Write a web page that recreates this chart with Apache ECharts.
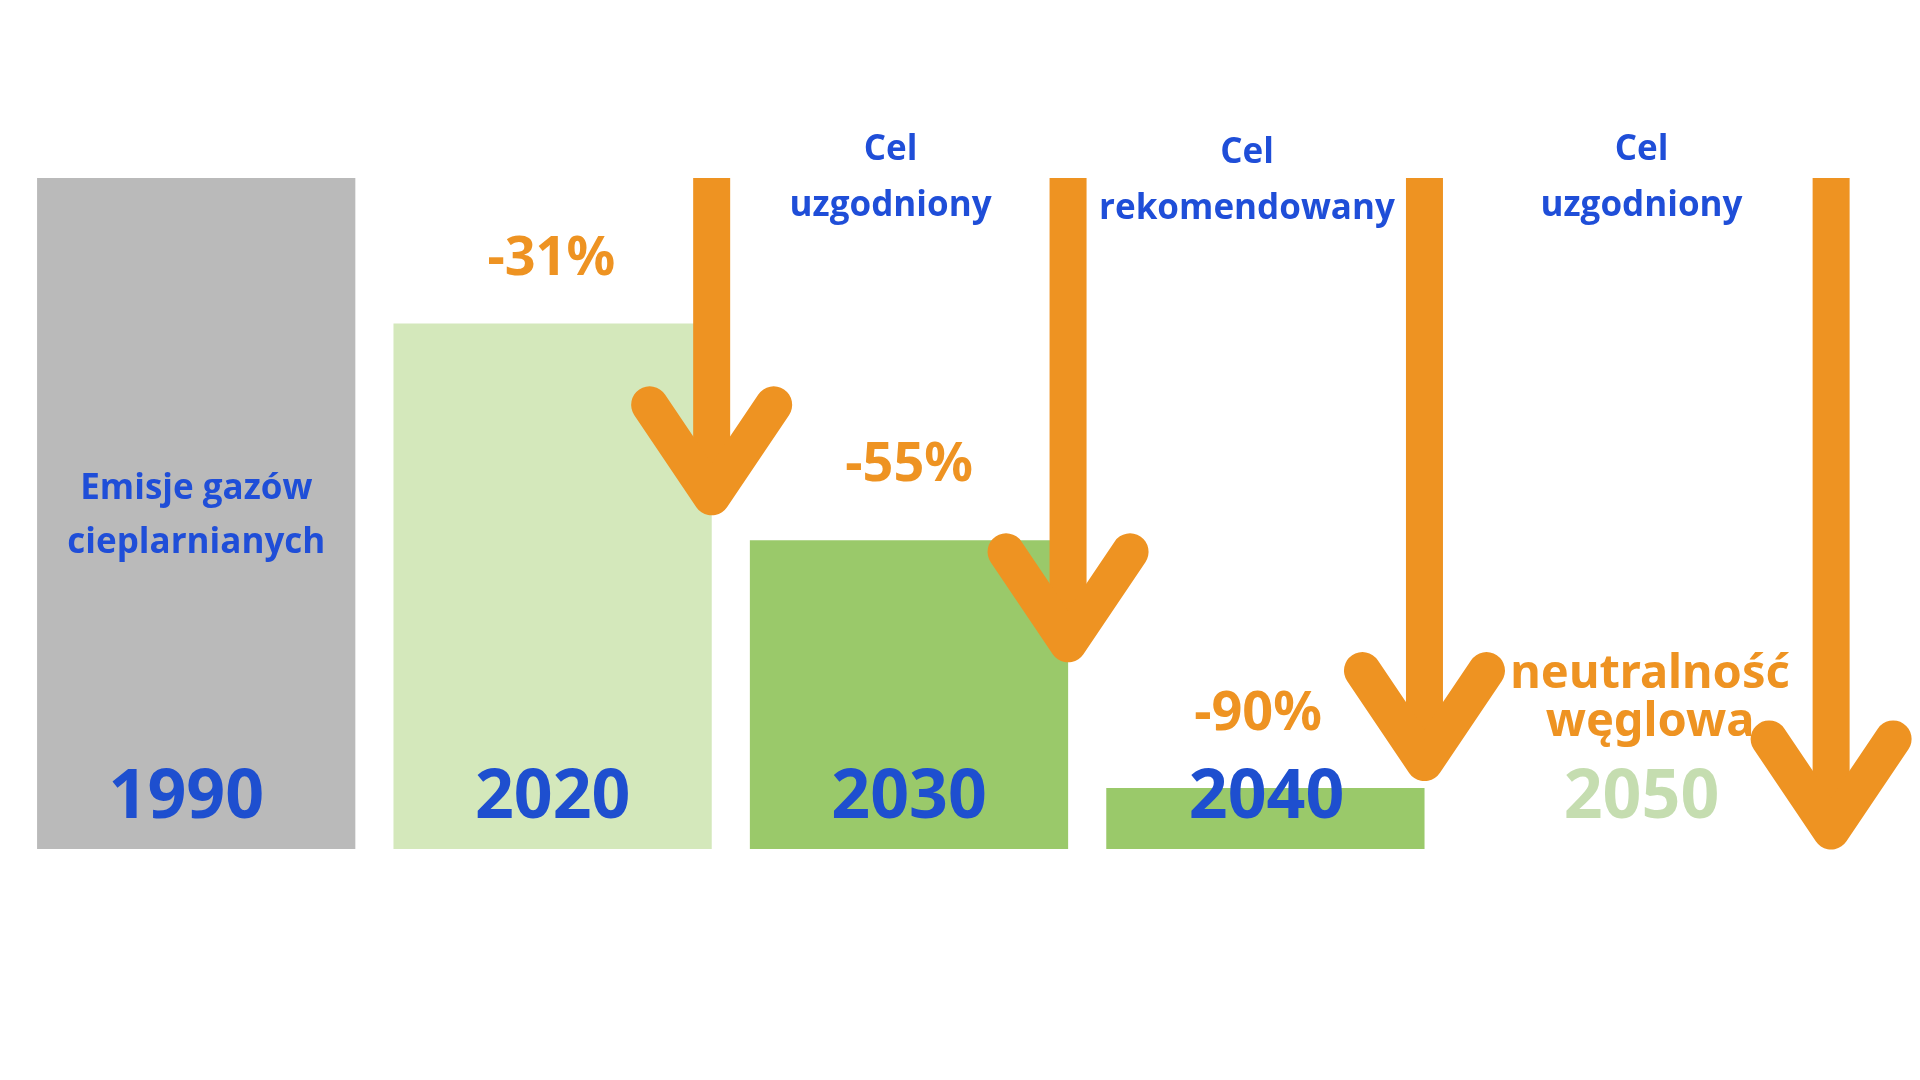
<!DOCTYPE html>
<html>
<head>
<meta charset="utf-8">
<script src="https://cdn.jsdelivr.net/npm/echarts@6/dist/echarts.min.js"></script>
<style>html,body{margin:0;background:#fff}#c{width:1920px;height:1080px}</style>
</head>
<body>
<div id="c"></div>
<script>
// dane
const years = ['1990', '2020', '2030', '2040', '2050'];
const emissions = [100, 78.3, 46, 9.1, 0];
const barColors = ['#bababa', '#d4e8bb', '#9ac96a', '#9ac96a', '#9ac96a'];
const yearColors = ['#1e4fcf', '#1e4fcf', '#1e4fcf', '#1e4fcf', '#c5ddb0'];
const yearPos = [0.419, 1.447, 2.447, 3.45, 4.502];
const yearY = 7.5;
// strzałki: [pozycja x w jednostkach kategorii, początek, koniec]
const arrows = [[1.893, 100, 49.8], [2.893, 100, 27.9], [3.893, 100, 10.2], [5.034, 100, 0]];
// podpisy: [x, y, tekst, typ]
const notes = [
  [0.447, 49.6, 'Emisje gazów\ncieplarnianych', 'blue'],
  [1.443, 87.8, '-31%', 'pct'],
  [2.447, 57.1, '-55%', 'pct'],
  [3.426, 20.1, '-90%', 'pct'],
  [4.526, 22.4, 'neutralność\nwęglowa', 'neutral'],
  [2.395, 100, 'Cel\nuzgodniony', 'cel'],
  [3.395, 99.5, 'Cel\nrekomendowany', 'cel'],
  [4.502, 100, 'Cel\nuzgodniony', 'cel']
];

const orange = '#ee9322';
const noteStyles = {
  blue: { color: '#1f4ed8', fontSize: 35, fontWeight: 'bold', lineHeight: 54, fontFamily: 'Open Sans' },
  pct: { color: orange, fontSize: 54, fontWeight: 'bold', fontFamily: 'Noto Sans' },
  neutral: { color: orange, fontSize: 47, fontWeight: 'bold', lineHeight: 48, fontFamily: 'Noto Sans' },
  cel: { color: '#1f4ed8', fontSize: 35, fontWeight: 'bold', lineHeight: 56, fontFamily: 'Open Sans' }
};

const chart = echarts.init(document.getElementById('c'));
chart.setOption({
  animation: false,
  grid: [
    { left: 37, right: 101, top: 178, bottom: 231, containLabel: false },
    { left: 18, right: 120, top: 178, bottom: 231, containLabel: false }
  ],
  xAxis: [
    { type: 'category', gridIndex: 1, data: years, show: false },
    { type: 'value', gridIndex: 0, min: 0, max: 5, show: false }
  ],
  yAxis: [
    { type: 'value', gridIndex: 0, min: 0, max: 100, show: false },
    { type: 'value', gridIndex: 1, min: 0, max: 100, show: false }
  ],
  series: [
    {
      type: 'bar', xAxisIndex: 0, yAxisIndex: 1, z: 1, barCategoryGap: '10.7%',
      data: emissions.map((v, i) => ({ value: v, itemStyle: { color: barColors[i] } }))
    },
    {
      type: 'custom', xAxisIndex: 1, yAxisIndex: 0, z: 3, clip: false,
      data: arrows,
      renderItem: (params, api) => {
        const top = api.coord([api.value(0), api.value(1)]);
        const tip = api.coord([api.value(0), api.value(2)]);
        const ty = tip[1] - 18;
        const st = { stroke: orange, lineWidth: 37, fill: null };
        return {
          type: 'group',
          children: [
            { type: 'line', shape: { x1: top[0], y1: top[1], x2: tip[0], y2: ty - 10 }, style: Object.assign({ lineCap: 'butt' }, st) },
            { type: 'polyline', shape: { points: [[tip[0] - 62, ty - 92], [tip[0], ty], [tip[0] + 62, ty - 92]] }, style: Object.assign({ lineCap: 'round', lineJoin: 'round' }, st) }
          ]
        };
      }
    },
    {
      type: 'scatter', xAxisIndex: 1, yAxisIndex: 0, z: 2, symbolSize: 0,
      itemStyle: { opacity: 1 },
      data: years.map((y, i) => ({
        value: [yearPos[i], yearY],
        label: { show: true, position: 'inside', formatter: y, color: yearColors[i], fontSize: 68, fontWeight: 'bold', fontFamily: 'Noto Sans', opacity: 1 }
      }))
    },
    {
      type: 'scatter', xAxisIndex: 1, yAxisIndex: 0, z: 4, symbolSize: 0,
      itemStyle: { opacity: 1 },
      data: notes.map(n => ({
        value: [n[0], n[1]],
        label: Object.assign({ show: true, position: 'inside', formatter: n[2], align: 'center', verticalAlign: 'middle', opacity: 1 }, noteStyles[n[3]])
      }))
    }
  ]
});
</script>
</body>
</html>
